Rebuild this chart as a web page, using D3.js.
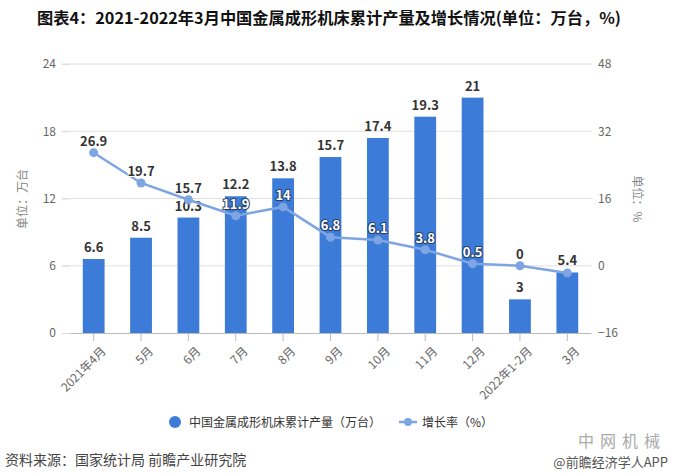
<!DOCTYPE html>
<html><head><meta charset="utf-8">
<script src="https://cdn.jsdelivr.net/npm/d3@7/dist/d3.min.js"></script>
<style>
body{margin:0;background:#fff;}
text{font-family:"Noto Sans CJK SC","Noto Sans",sans-serif;}
</style></head>
<body><svg id="c" width="673" height="474"></svg>
<script>
const categories = ["2021年4月","5月","6月","7月","8月","9月","10月","11月","12月","2022年1-2月","3月"];
const production = [6.6, 8.5, 10.3, 12.2, 13.8, 15.7, 17.4, 19.3, 21, 3, 5.4];
const growth = [26.9, 19.7, 15.7, 11.9, 14, 6.8, 6.1, 3.8, 0.5, 0, -1.7];
const growthLabelShown = [true,true,true,true,true,true,true,true,true,true,false];
const leftTicks = [0, 6, 12, 18, 24];
const rightTicks = [-16, 0, 16, 32, 48];

const svg = d3.select("#c");
const barColor = "#3c7bd8", lineColor = "#7ea5e2";

const x = d3.scaleBand().domain(categories).range([70, 591]);
const yL = d3.scaleLinear().domain([0, 24]).range([333, 64]);
const yR = d3.scaleLinear().domain([-16, 48]).range([333, 64]);

// title
svg.append("text").attr("x", 37).attr("y", 24).attr("font-size", 16).attr("font-weight", "bold")
  .attr("fill", "#111").attr("textLength", 584).attr("lengthAdjust", "spacingAndGlyphs")
  .text("图表4：2021-2022年3月中国金属成形机床累计产量及增长情况(单位：万台，%)");

// grid
svg.append("g").selectAll("line").data(leftTicks.slice(1)).join("line")
  .attr("x1", 62).attr("x2", 592).attr("y1", d => yL(d)).attr("y2", d => yL(d))
  .attr("stroke", "#e0e0e0").attr("stroke-width", 1);

// left axis
const gL = svg.append("g").attr("transform", "translate(70,0)")
  .call(d3.axisLeft(yL).tickValues(leftTicks).tickSize(8).tickPadding(6));
gL.select(".domain").remove();
gL.selectAll("line").attr("stroke", "#ddd");
gL.selectAll("text").attr("fill", "#666").attr("font-size", 12).attr("font-family", "Noto Sans, sans-serif");

// right axis
const gR = svg.append("g").attr("transform", "translate(591,0)")
  .call(d3.axisRight(yR).tickValues(rightTicks).tickSize(0).tickPadding(7));
gR.select(".domain").remove();
gR.selectAll("text").attr("fill", "#666").attr("font-size", 12).attr("font-family", "Noto Sans, sans-serif");

// axis titles
svg.append("text").attr("transform", "translate(27,199) rotate(-90)").attr("text-anchor", "middle")
  .attr("font-size", 12).attr("fill", "#888").text("单位：万台");
svg.append("text").attr("transform", "translate(633,199) rotate(90)").attr("text-anchor", "middle")
  .attr("font-size", 12).attr("fill", "#888").text("单位：%");

// bars
const bw = x.bandwidth() * 0.46;
svg.append("g").selectAll("rect").data(production).join("rect")
  .attr("x", (d, i) => x(categories[i]) + x.bandwidth() / 2 - bw / 2)
  .attr("y", d => yL(d)).attr("width", bw).attr("height", d => yL(0) - yL(d))
  .attr("fill", barColor);

// x axis
const gX = svg.append("g").attr("transform", "translate(0,333)")
  .call(d3.axisBottom(x).tickSize(8).tickPadding(4).tickSizeOuter(0));
gX.select(".domain").attr("stroke", "#bbb");
gX.selectAll(".tick line").attr("stroke", "#bbb");
gX.selectAll("text").attr("fill", "#666").attr("font-size", 12)
  .attr("text-anchor", "end").attr("dy", "0.3em")
  .attr("transform", "translate(2,8) rotate(-45)");

// bar labels
svg.append("g").selectAll("text").data(production).join("text")
  .attr("x", (d, i) => x(categories[i]) + x.bandwidth() / 2)
  .attr("y", d => yL(d) - 7).attr("text-anchor", "middle")
  .attr("font-size", 13).attr("font-weight", "bold").attr("fill", "#333")
  .attr("font-family", "Noto Sans, sans-serif").text(d => d);

// line
const pts = growth.map((v, i) => [x(categories[i]) + x.bandwidth() / 2, yR(v)]);
svg.append("path").attr("d", d3.line()(pts)).attr("fill", "none")
  .attr("stroke", lineColor).attr("stroke-width", 2.5);
svg.append("g").selectAll("circle").data(pts).join("circle")
  .attr("cx", d => d[0]).attr("cy", d => d[1]).attr("r", 4.5).attr("fill", lineColor);

// line labels
const lbl = svg.append("g");
growth.forEach((v, i) => {
  if (!growthLabelShown[i]) return;
  const cx = pts[i][0], ly = yR(v) - 7;
  const overBar = ly - 6 > yL(production[i]);
  const t = lbl.append("text").attr("x", cx).attr("y", ly).attr("text-anchor", "middle")
    .attr("font-size", 13).attr("font-weight", "bold").attr("font-family", "Noto Sans, sans-serif")
    .attr("paint-order", "stroke").attr("stroke-linejoin", "round").text(v);
  if (overBar) t.attr("fill", "#fff").attr("stroke", "#2a3f66").attr("stroke-width", 2);
  else t.attr("fill", "#333").attr("stroke", "#fff").attr("stroke-width", 2);
});

// legend
svg.append("circle").attr("cx", 175).attr("cy", 422).attr("r", 6).attr("fill", barColor);
svg.append("text").attr("x", 189).attr("y", 426.5).attr("font-size", 12).attr("fill", "#333")
  .text("中国金属成形机床累计产量（万台）");
svg.append("line").attr("x1", 399).attr("x2", 417).attr("y1", 422).attr("y2", 422)
  .attr("stroke", lineColor).attr("stroke-width", 2.5);
svg.append("circle").attr("cx", 408).attr("cy", 422).attr("r", 4).attr("fill", lineColor);
svg.append("text").attr("x", 422).attr("y", 426.5).attr("font-size", 12).attr("fill", "#333")
  .text("增长率（%）");

// footer
svg.append("text").attr("x", 5).attr("y", 465).attr("font-size", 14).attr("fill", "#444")
  .text("资料来源：国家统计局 前瞻产业研究院");
svg.append("text").attr("x", 622).attr("y", 447).attr("text-anchor", "middle").attr("font-size", 16)
  .attr("fill", "#aaa").attr("letter-spacing", 6).text("中网机械");
svg.append("text").attr("x", 668).attr("y", 467).attr("text-anchor", "end").attr("font-size", 13)
  .attr("fill", "#555").text("@前瞻经济学人APP");
</script></body></html>
